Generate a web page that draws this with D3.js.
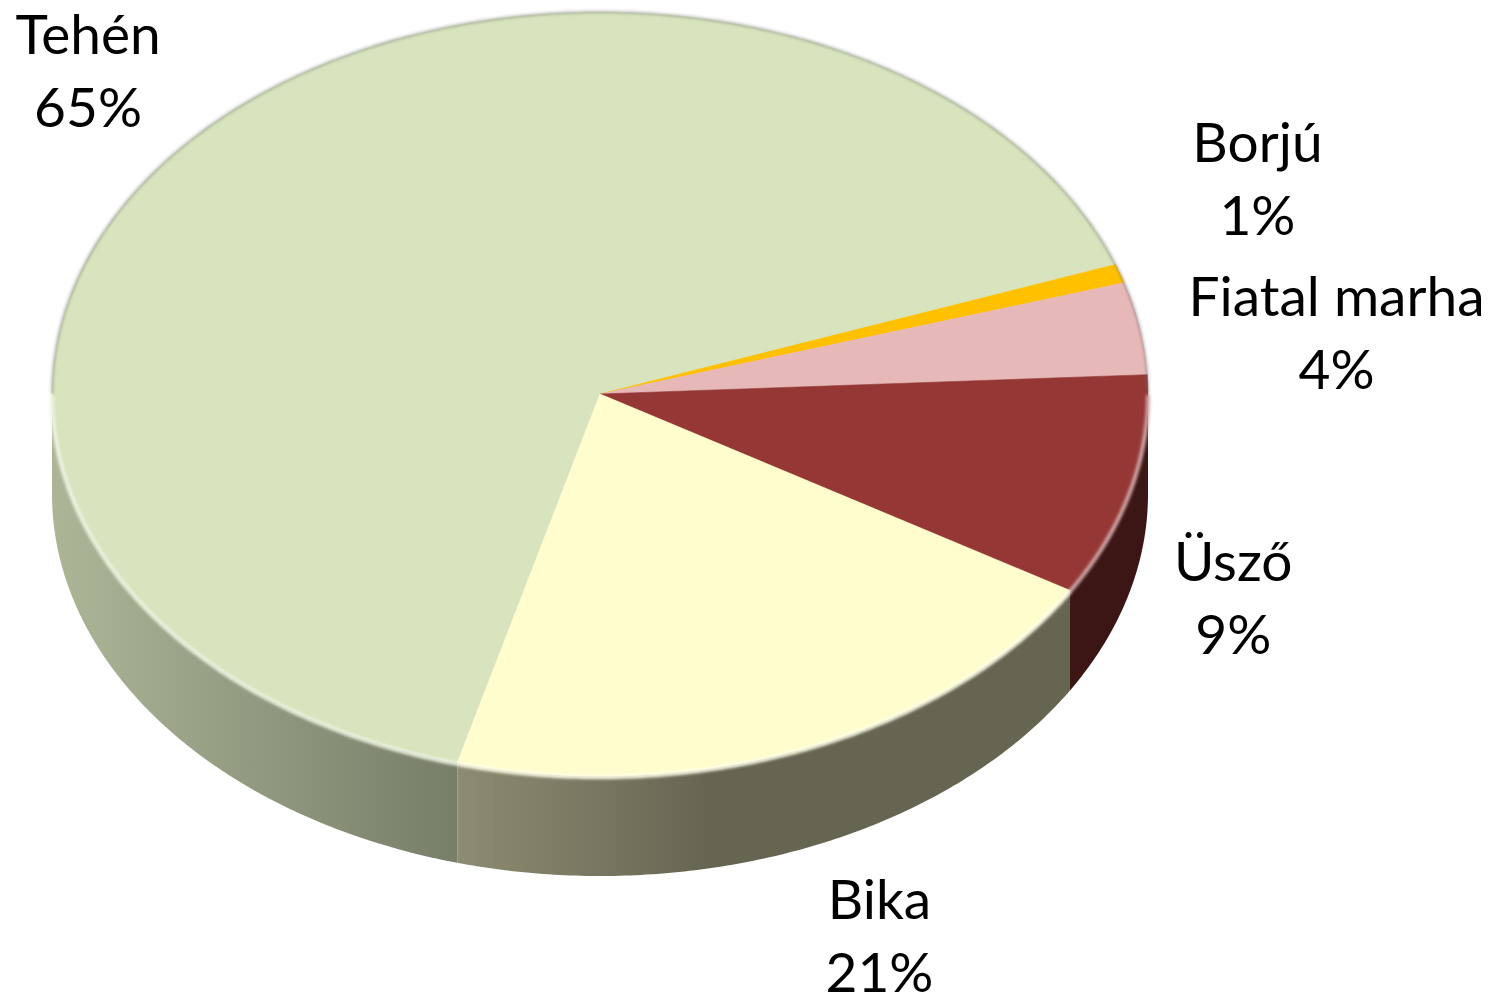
<!DOCTYPE html>
<html>
<head>
<meta charset="utf-8">
<script src="https://cdn.jsdelivr.net/npm/d3@7"></script>
<style>
  body { margin: 0; background: #fff; }
  svg { display: block; }
</style>
</head>
<body>
<div id="chart"></div>
<script>
// data (shares in %, labels show rounded values)
var categories = ["Tehén", "Borjú", "Fiatal marha", "Üsző", "Bika"];
var shares = [65.3, 0.8, 3.9, 9.4, 20.6];
var colors = ["#d7e4bd", "#ffc000", "#e6b9b8", "#953735", "#fffdcd"];

// label nudges (dx, dy) from the radial position, like Excel's best fit
var labelNudge = [[0, 7], [-3, -61], [51, 24], [-42, -13], [19, -7]];

var width = 1504, height = 1003;
var cx = 600, cy = 394, rx = 548, ry = 382, depth = 100;
var startDeg = 195.1;

var svg = d3.select("#chart")
  .append("svg")
    .attr("width", width)
    .attr("height", height);

var defs = svg.append("defs");
defs.append("filter").attr("id", "soft")
  .attr("x", "-5%").attr("y", "-5%").attr("width", "110%").attr("height", "110%")
  .append("feGaussianBlur").attr("stdDeviation", 1.6);

var data = categories.map(function(c, i) {
  return {name: c, value: shares[i], color: colors[i]};
});

var pie = d3.pie()
  .sort(null)
  .value(function(d) { return d.value; })
  .startAngle(startDeg * Math.PI / 180)
  .endAngle(startDeg * Math.PI / 180 + 2 * Math.PI);

var arcs = pie(data);

// point on the tilted rim, angle measured like d3 (0 = up, clockwise)
function pt(a, dy) {
  return [cx + rx * Math.sin(a), cy - ry * Math.cos(a) + (dy || 0)];
}
function rim(a0, a1, dy) {
  var n = Math.max(2, Math.ceil(Math.abs(a1 - a0) / 0.01));
  return d3.range(n + 1).map(function(i) { return pt(a0 + (a1 - a0) * i / n, dy); });
}
var line = d3.line();

// parts of [a0,a1] that lie on the front half of the pie
function frontParts(a0, a1) {
  var out = [];
  [[Math.PI / 2, 3 * Math.PI / 2], [5 * Math.PI / 2, 7 * Math.PI / 2]].forEach(function(r) {
    var s = Math.max(a0, r[0]), e = Math.min(a1, r[1]);
    if (e > s) out.push([s, e]);
  });
  return out;
}

// side shading: lighter on the left, darker towards the right
arcs.forEach(function(d, i) {
  var base = d3.rgb(d.data.color);
  function shade(f) { return d3.rgb(base.r * f, base.g * f, base.b * f).toString(); }
  var g = defs.append("linearGradient")
    .attr("id", "side" + i)
    .attr("gradientUnits", "userSpaceOnUse")
    .attr("x1", cx - rx).attr("x2", cx + rx)
    .attr("y1", 0).attr("y2", 0);
  g.append("stop").attr("offset", 0).attr("stop-color", shade(0.80));
  g.append("stop").attr("offset", 0.6).attr("stop-color", shade(0.40));
  g.append("stop").attr("offset", 1).attr("stop-color", shade(0.40));
});

// side walls
var sides = svg.append("g");
arcs.forEach(function(d, i) {
  frontParts(d.startAngle, d.endAngle).forEach(function(p) {
    var pts = rim(p[0], p[1], 0).concat(rim(p[1], p[0], depth));
    sides.append("path")
      .attr("d", line(pts) + "Z")
      .attr("fill", "url(#side" + i + ")");
  });
});

// top faces
var tops = svg.append("g");
arcs.forEach(function(d) {
  var pts = [[cx, cy]].concat(rim(d.startAngle, d.endAngle, 0));
  tops.append("path")
    .attr("d", line(pts) + "Z")
    .attr("fill", d.data.color)
    .attr("stroke", d.data.color)
    .attr("stroke-width", 0.6);
});

// thin grey outline on the back rim
svg.append("path")
  .attr("d", line(rim(-Math.PI / 2, Math.PI / 2, 0)))
  .attr("fill", "none")
  .attr("stroke", "#6f6f6f")
  .attr("stroke-opacity", 0.55)
  .attr("stroke-width", 2)
  .attr("filter", "url(#soft)");

// bevel highlight along the front rim
var hl = svg.append("g").attr("filter", "url(#soft)");
arcs.forEach(function(d) {
  frontParts(d.startAngle, d.endAngle).forEach(function(p) {
    hl.append("path")
      .attr("d", line(rim(p[0], p[1], 1)))
      .attr("fill", "none")
      .attr("stroke", d3.interpolateRgb(d.data.color, "#ffffff")(0.55))
      .attr("stroke-width", 4);
  });
});

// labels
var fmt = d3.format(".0f");
var labels = svg.append("g")
  .attr("font-family", "Lato, 'Open Sans', sans-serif")
  .attr("font-size", 55)
  .attr("fill", "#000")
  .attr("text-anchor", "middle");

arcs.forEach(function(d, i) {
  var m = (d.startAngle + d.endAngle) / 2;
  var p = pt(m, 0);
  var ax = cx + (p[0] - cx) * 1.27 + labelNudge[i][0];
  var ay = cy + (p[1] - cy) * 1.27 + (Math.cos(m) < 0 ? depth : 0) + labelNudge[i][1];
  var t = labels.append("text");
  t.append("tspan").attr("x", ax).attr("y", ay - 18).text(d.data.name);
  t.append("tspan").attr("x", ax).attr("y", ay + 55).text(fmt(d.data.value) + "%");
});
</script>
</body>
</html>
